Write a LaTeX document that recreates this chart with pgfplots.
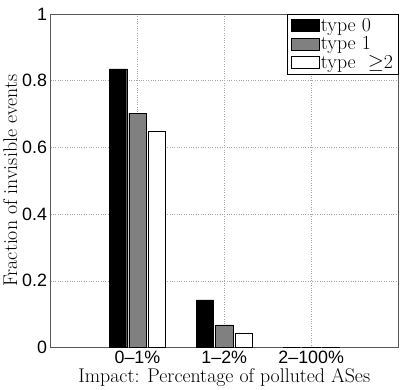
\documentclass[border=0pt]{standalone}
\usepackage{fontspec}
\usepackage{pgfplots}
\pgfplotsset{compat=1.18}
\newfontfamily\helv{Liberation Sans}
\definecolor{framegray}{gray}{0.35}
\begin{document}
\begin{tikzpicture}
\begin{axis}[
  name=ax,
  scale only axis,
  width=349bp, height=335bp,
  xmin=0, xmax=4, ymin=0, ymax=1,
  xtick={1,2,3},
  xticklabels={0–1\%,1–2\%,2–100\%},
  ytick={0,0.2,0.4,0.6,0.8,1},
  yticklabels={0,0.2,0.4,0.6,0.8,1},
  ticklabel style={font=\helv\fontsize{18}{20}\selectfont},
  label style={font=\fontsize{20}{22}\selectfont},
  xlabel={Impact: Percentage of polluted ASes},
  ylabel={Fraction of invisible events},
  xlabel style={yshift=2bp},
  ylabel style={yshift=-2bp},
  grid=major,
  major grid style={dotted, gray!70},
  major tick length=0pt,
  axis line style={framegray},
  ybar=2bp,
  bar width=0.2,
  legend style={at={(rel axis cs:1,1)}, anchor=north east, font=\fontsize{20}{22}\selectfont, draw=black, inner xsep=3bp, inner ysep=2bp, row sep=0bp},
  legend cell align=left,
  legend image code/.code={\draw[#1] (0bp,-6bp) rectangle (28bp,6bp);},
]
\addplot[fill=black, draw=black] coordinates {(1,0.835) (2,0.143) (3,0)};
\addplot[fill=gray, draw=black] coordinates {(1,0.703) (2,0.068) (3,0.001)};
\addplot[fill=white, draw=black] coordinates {(1,0.648) (2,0.042) (3,0.002)};
\legend{type 0, type 1, type\ \ $\geq$2}
\end{axis}
\path (ax.north east) ++(9bp,14bp);
\end{tikzpicture}
\end{document}
